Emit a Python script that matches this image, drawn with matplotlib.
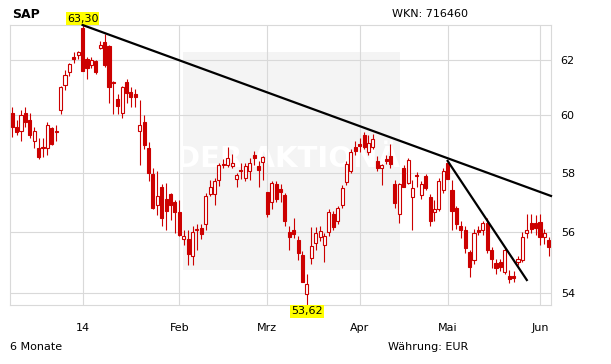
import matplotlib
matplotlib.use("Agg")
import matplotlib.pyplot as plt
from matplotlib.ticker import NullLocator, NullFormatter, FixedLocator, FixedFormatter
from matplotlib.patches import Rectangle

# daily candles, Dec 2013 - Jun 2014 (trading days)
opens = [60.1, 59.6, 59.45, 60.1, 59.85, 59.1, 58.85, 58.85, 58.85, 59.55, 59.4, 60.2, 61.1, 61.57, 62.1, 62.2,
         63.2, 62.05, 61.8, 61.95, 62.45, 62.65, 62.5, 61.2, 60.6, 60.1, 61.2, 60.85, 60.75, 59.45, 59.75, 58.85,
         57.95, 56.9, 57.5, 57.1, 57.25, 57.0,
         56.65, 55.77, 55.75, 55.2, 56.07, 56.12, 56.25, 57.27, 57.27, 57.76, 58.25, 58.27, 58.24, 57.78, 58.1,
         57.82, 58.05, 58.61, 58.24, 58.36,
         57.33, 57.0, 57.6, 57.42, 57.24, 56.0, 56.07, 55.73, 55.23, 53.97, 55.15, 55.62, 55.83, 55.57, 56.0,
         56.58, 56.35, 56.9, 57.67, 58.05, 58.9,
         59.0, 59.3, 58.7, 58.87, 58.39, 58.17, 58.47, 58.58, 57.6, 56.58, 58.14, 57.64, 57.17, 57.93, 57.24,
         57.87, 57.18, 56.65, 56.75, 57.4,
         58.33, 57.4, 56.78, 56.2, 56.07, 55.34, 55.07, 56.07, 56.05, 56.3, 55.4, 54.98, 55.0, 54.69, 54.56,
         54.56, 55.0, 55.08, 55.97, 56.3, 56.3,
         56.32, 55.84, 55.73]
highs = [60.3, 59.85, 60.2, 60.3, 60.1, 59.6, 59.2, 59.2, 59.75, 59.6, 59.65, 61.05, 61.65, 61.9, 62.3, 62.35,
         63.3, 62.1, 62.1, 62.0, 62.7, 62.95, 62.55, 61.25, 60.75, 61.05, 61.3, 61.0, 60.95, 60.55, 60.0, 59.05,
         58.15, 58.05, 57.6, 57.65, 57.3, 57.05,
         57.05, 56.05, 56.05, 56.2, 56.25, 56.25, 57.3, 57.75, 57.8, 58.33, 58.47, 58.87, 58.65, 58.0, 58.33,
         58.33, 58.5, 58.76, 58.4, 58.56,
         57.35, 57.7, 57.7, 57.6, 57.3, 56.2, 56.45, 55.85, 55.35, 54.6, 56.17, 56.17, 56.2, 55.96, 56.76,
         56.7, 56.85, 57.58, 58.39, 58.83, 59.1,
         59.2, 59.4, 59.3, 59.35, 58.56, 58.3, 58.6, 59.0, 57.73, 57.64, 58.25, 58.5, 57.76, 58.02, 57.7,
         57.95, 57.27, 57.05, 57.82, 58.17,
         58.4, 57.76, 56.85, 56.35, 56.2, 55.4, 56.1, 56.2, 56.35, 56.45, 55.5, 55.1, 55.1, 55.45, 54.75,
         54.7, 55.2, 56.0, 56.6, 56.6, 56.55,
         56.58, 56.1, 55.84]
lows = [59.25, 59.3, 59.1, 59.6, 59.2, 58.85, 58.45, 58.55, 58.6, 58.95, 59.1, 60.05, 60.9, 61.4, 61.9, 62.05,
        61.6, 61.3, 61.7, 61.5, 62.4, 61.75, 60.45, 60.05, 60.05, 59.9, 60.45, 60.3, 60.3, 58.25, 58.8, 57.7,
        56.75, 56.55, 56.2, 56.05, 56.4, 55.95,
        55.85, 55.55, 54.9, 54.9, 55.4, 55.75, 56.05, 57.2, 56.9, 57.55, 58.17, 58.2, 58.14, 57.5, 57.78,
        57.7, 57.76, 58.27, 57.52, 57.73,
        56.5, 56.75, 57.0, 57.0, 56.2, 55.4, 55.78, 55.07, 54.36, 53.62, 54.93, 55.4, 55.7, 55.0, 55.85,
        56.07, 56.27, 56.8, 57.58, 58.0, 58.6,
        58.7, 58.8, 58.6, 58.8, 58.05, 57.58, 58.3, 58.17, 56.8, 56.3, 57.5, 57.6, 56.07, 57.5, 57.1,
        57.4, 56.2, 56.35, 56.7, 57.3,
        57.78, 56.07, 56.1, 55.8, 55.3, 54.53, 54.95, 55.9, 55.9, 55.3, 54.8, 54.6, 54.7, 54.6, 54.33,
        54.35, 54.9, 55.0, 55.8, 55.95, 55.9,
        55.57, 55.6, 55.2]
closes = [59.6, 59.4, 60.0, 59.75, 59.3, 59.45, 58.55, 58.9, 59.65, 59.0, 59.45, 61.0, 61.45, 61.85, 62.05, 62.3,
          61.6, 61.7, 62.0, 61.55, 62.55, 61.8, 61.0, 61.15, 60.35, 61.0, 60.8, 60.65, 60.65, 59.65, 58.95, 58.0,
          56.8, 57.2, 56.45, 56.7, 56.9, 56.65,
          55.9, 55.87, 55.25, 56.0, 56.1, 55.93, 57.2, 57.5, 57.7, 58.27, 58.3, 58.5, 58.33, 57.92, 58.05,
          58.22, 58.33, 58.5, 58.08, 58.52,
          56.58, 57.64, 57.1, 57.33, 56.35, 55.83, 55.93, 55.3, 54.36, 54.3, 55.53, 55.95, 56.02, 55.85, 56.65,
          56.17, 56.8, 57.47, 58.3, 58.72, 58.75,
          58.93, 58.87, 59.03, 59.17, 58.17, 58.25, 58.39, 58.3, 56.96, 57.6, 57.5, 58.44, 57.47, 57.87, 57.6,
          57.47, 56.37, 56.75, 57.7, 58.05,
          57.78, 56.7, 56.27, 56.07, 55.45, 54.83, 55.96, 56.0, 56.3, 55.4, 55.09, 54.8, 54.83, 55.4, 54.44,
          54.5, 55.1, 55.84, 56.07, 56.1, 56.13,
          55.84, 55.97, 55.49]

month_pos = [16, 38, 58, 79, 99, 120]
month_labels = ["14", "Feb", "Mrz", "Apr", "Mai", "Jun"]
y_ticks = [54, 56, 58, 60, 62]
y_min, y_max = 53.62, 63.30

# trend lines (index, price)
trend1 = ([16, 122.5], [63.30, 57.2])
trend2 = ([99, 117], [58.4, 54.42])

RED = "#cc0000"
GRID = "#d9d9d9"

fig = plt.figure(figsize=(6.11, 3.64), dpi=100)
ax = fig.add_axes([10 / 611, 59 / 364, 541 / 611, 280 / 364])
ax.set_yscale("log")
ax.set_xlim(-0.5, 122.5)
ax.set_ylim(y_min, y_max)

# watermark panel
ax.add_patch(Rectangle((0.32, 0.125), 0.401, 0.779, transform=ax.transAxes,
                       facecolor="#f4f4f4", edgecolor="none", zorder=0))
ax.text(0.535, 0.52, "DER AKTIONÄR", transform=ax.transAxes, ha="center", va="center",
        fontsize=21, fontweight="bold", color="white", zorder=0.2)

# candles
xs = list(range(len(opens)))
ax.vlines(xs, lows, highs, color=RED, linewidth=0.8, zorder=2)
for x, o, c in zip(xs, opens, closes):
    up = c >= o
    ax.bar(x, abs(c - o), bottom=min(o, c), width=0.7,
           facecolor="white" if up else RED, edgecolor=RED, linewidth=0.8, zorder=3)

ax.plot(trend1[0], trend1[1], color="black", linewidth=1.6, zorder=4, clip_on=False)
ax.plot(trend2[0], trend2[1], color="black", linewidth=1.6, zorder=4)

# high / low labels
ax.annotate("63,30", xy=(16, y_max), xytext=(0, 1), textcoords="offset points",
            ha="center", va="bottom", fontsize=8,
            bbox=dict(boxstyle="square,pad=0.1", fc="#ffff00", ec="none"), annotation_clip=False)
ax.annotate("53,62", xy=(67, y_min), xytext=(0, -1), textcoords="offset points",
            ha="center", va="top", fontsize=8,
            bbox=dict(boxstyle="square,pad=0.1", fc="#ffff00", ec="none"), annotation_clip=False)

# axes styling
ax.yaxis.set_major_locator(FixedLocator(y_ticks))
ax.yaxis.set_major_formatter(FixedFormatter([str(t) for t in y_ticks]))
ax.yaxis.set_minor_locator(NullLocator())
ax.yaxis.set_minor_formatter(NullFormatter())
ax.set_xticks(month_pos)
ax.set_xticklabels(month_labels)
ax.tick_params(axis="y", length=0, pad=7, labelleft=False, labelright=True, labelsize=8)
ax.tick_params(axis="x", length=0, pad=13, labelsize=8)
ax.grid(True, color=GRID, linewidth=0.8, zorder=1)
ax.set_axisbelow(True)
for s in ax.spines.values():
    s.set_color(GRID)
    s.set_linewidth(0.8)

fig.text(12 / 611, 1 - 14 / 364, "SAP", fontsize=9, fontweight="bold", va="center")
fig.text(392 / 611, 1 - 14 / 364, "WKN: 716460", fontsize=8, va="center")
fig.text(10 / 611, 1 - 347 / 364, "6 Monate", fontsize=8, va="center")
fig.text(388 / 611, 1 - 347 / 364, "Währung: EUR", fontsize=8, va="center")

fig.savefig("out.png", dpi=100)
